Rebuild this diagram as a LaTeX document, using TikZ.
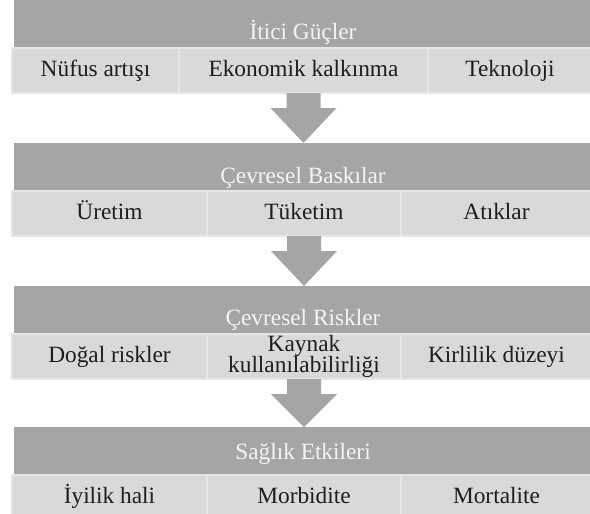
\documentclass[tikz,border=0pt]{standalone}
\usepackage{fontspec}
\setmainfont{Liberation Serif}
\usetikzlibrary{calc}

\definecolor{bandgray}{HTML}{A5A5A5}
\definecolor{bandtext}{HTML}{F4F4F4}
\definecolor{cellgray}{HTML}{D9D9D9}
\definecolor{cellline}{HTML}{E6E6E6}
\definecolor{celltext}{HTML}{1E1E1E}

\tikzset{every picture/.style={line width=0.75pt}}
\tikzset{
  band/.style={fill=bandgray, minimum width=433.5pt, minimum height=36pt, inner sep=0pt, outer sep=0pt},
  bandlabel/.style={text=bandtext, font=\fontsize{17.5}{19}\selectfont, inner sep=0pt, text height=11.5pt, text depth=2.5pt},
  cell/.style={fill=cellgray, draw=cellline, line width=1.5pt, minimum height=33.75pt, inner sep=0pt, outer sep=0pt, text=celltext, font=\fontsize{17.5}{16}\selectfont, text height=11.5pt, text depth=2.5pt},
  twolinecell/.style={cell, text height=, text depth=, align=center},
  downarrow/.style={fill=bandgray}
}

\begin{document}
\begin{tikzpicture}[x=0.75pt,y=0.75pt,yscale=-1,xscale=1]
\useasboundingbox (0,0) rectangle (590,514);
\clip (0,0) rectangle (590,514);

%Bands
\node[band] (h1) at (303,24) {};
\node[band] (h2) at (303,167) {};
\node[band] (h3) at (303,310) {};
\node[band] (h4) at (303,451) {};

%Row 1
\node[cell, minimum width=125.25pt] (r1a) at (95.5,70.5) {Nüfus artışı};
\node[cell, minimum width=186.75pt] (r1b) at (303.5,70.5) {Ekonomik kalkınma};
\node[cell, minimum width=123pt] (r1c) at (510,70.5) {Teknoloji};
%Row 2
\node[cell, minimum width=146.25pt] (r2a) at (109.5,213.5) {Üretim};
\node[cell, minimum width=145.5pt] (r2b) at (304,213.5) {Tüketim};
\node[cell, minimum width=143.25pt] (r2c) at (496.5,213.5) {Atıklar};
%Row 3
\node[cell, minimum width=146.25pt] (r3a) at (109.5,356.5) {Doğal riskler};
\node[twolinecell, minimum width=145.5pt] (r3b) at (304,356.5) {Kaynak\\kullanılabilirliği};
\node[cell, minimum width=143.25pt] (r3c) at (496.5,356.5) {Kirlilik düzeyi};
%Row 4
\node[cell, minimum width=146.25pt] (r4a) at (109.5,497.5) {İyilik hali};
\node[cell, minimum width=145.5pt] (r4b) at (304,497.5) {Morbidite};
\node[cell, minimum width=143.25pt] (r4c) at (496.5,497.5) {Mortalite};

%Band titles
\node[bandlabel] (t1) at (303,33.5) {İtici Güçler};
\node[bandlabel] (t2) at (303,177.5) {Çevresel Baskılar};
\node[bandlabel] (t3) at (303,319.5) {Çevresel Riskler};
\node[bandlabel] (t4) at (303,453) {Sağlık Etkileri};

%Down Arrows
\fill[downarrow] ($(r1b.south)+(-17,0)$) -- ++(34,0) -- ++(0,15) -- ++(16,0) -- (r1b.south |- h2.north) -- ($(r1b.south)+(-33,15)$) -- ++(16,0) -- cycle;
\fill[downarrow] ($(r2b.south)+(-17,0)$) -- ++(34,0) -- ++(0,15) -- ++(16,0) -- (r2b.south |- h3.north) -- ($(r2b.south)+(-33,15)$) -- ++(16,0) -- cycle;
\fill[downarrow] ($(r3b.south)+(-17,0)$) -- ++(34,0) -- ++(0,15) -- ++(16,0) -- (r3b.south |- h4.north) -- ($(r3b.south)+(-33,15)$) -- ++(16,0) -- cycle;

\end{tikzpicture}
\end{document}
